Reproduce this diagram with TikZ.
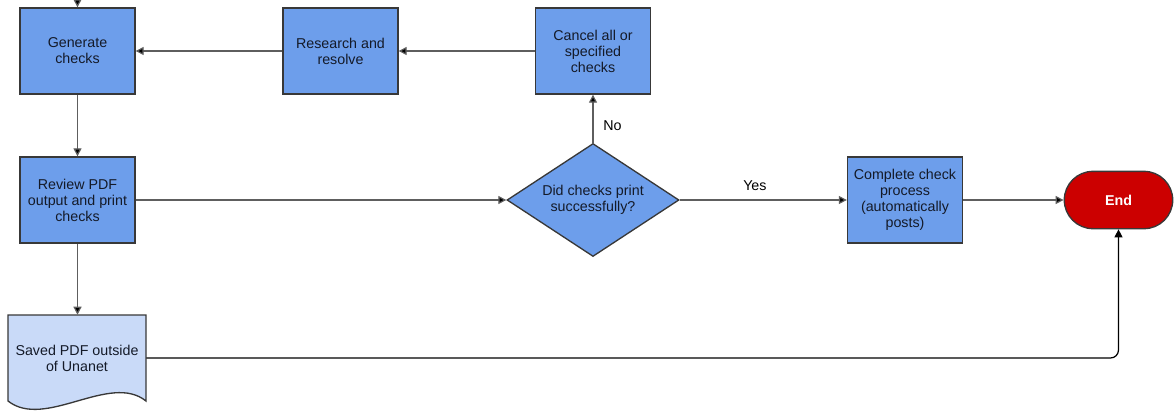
\documentclass[tikz,border=0pt]{standalone}
\usepackage{fontspec}
\setmainfont{Liberation Sans}
\usetikzlibrary{shapes.geometric,shapes.misc,arrows.meta}
\definecolor{boxblue}{HTML}{6D9EEB}
\definecolor{docblue}{HTML}{C9DAF8}
\definecolor{endred}{HTML}{CC0000}
\definecolor{boxedge}{HTML}{383838}
\definecolor{boxtext}{HTML}{141a28}
\definecolor{flowgray}{HTML}{5E5E5E}
\tikzset{
  boxfont/.style={font=\fontsize{10.7}{12}\selectfont, text=boxtext},
  procbox/.style={boxfont, draw=boxedge, line width=1pt, fill=boxblue,
    minimum width=86.25pt, minimum height=64.5pt, align=center, inner sep=1pt},
  decision/.style={boxfont, diamond, draw=boxedge, line width=1pt, fill=boxblue,
    minimum width=129pt, minimum height=84.75pt, aspect=1.52, align=center, inner sep=0pt},
  terminal/.style={rounded rectangle, draw=boxedge, line width=1pt, fill=endred,
    minimum width=88pt, minimum height=43pt, text=white,
    font=\fontsize{10.7}{12}\selectfont\bfseries},
  docnode/.style={boxfont, minimum width=103.5pt, minimum height=64.5pt, align=center, inner sep=1pt},
  flow/.style={draw=flowgray, line width=0.9pt, -{Triangle[length=6pt,width=6pt,fill=black]}},
  flowlabel/.style={font=\fontsize{10.7}{12}\selectfont, text=black}
}
\begin{document}
\begin{tikzpicture}[x=0.75pt,y=-0.75pt]
  \useasboundingbox (0,0) rectangle (1175,412);
  % document shape for the saved file
  \draw[draw=boxedge, line width=1pt, fill=docblue]
    (8,315) -- (146,315) -- (146,401)
    .. controls (110,372) and (45,430) .. (8,401) -- cycle;
  \coordinate (top) at (77.5,0);
  \draw
    (77.5,51) node[procbox] (gen){Generate\\checks}
    (340.5,51) node[procbox] (research){Research and\\resolve}
    (593,51) node[procbox] (cancel){Cancel all or\\specified\\checks}
    (77.5,200) node[procbox] (review){Review PDF\\output and print\\checks}
    (593,200) node[decision] (printed){Did checks print\\successfully?}
    (905,200) node[procbox] (complete){Complete check\\process\\(automatically\\posts)}
    (1118.5,200) node[terminal] (end){End}
    (77,358) node[docnode] (saved){Saved PDF outside\\of Unanet};
  \begin{scope}[flow]
    \draw (top) to (gen);
    \draw (research) to (gen);
    \draw (cancel) to (research);
    \draw (gen) to (review);
    \draw (review) to (printed);
    \draw (printed) to node[flowlabel, pos=0.35, right=4pt]{No} (cancel);
    \draw (printed) to node[flowlabel, pos=0.45, above=3pt]{Yes} (complete);
    \draw (complete) to (end);
    \draw (review) to (saved.north -| review.south);
    \draw[draw=black, rounded corners=6pt] (saved.east) -| (end.south);
  \end{scope}
\end{tikzpicture}
\end{document}
